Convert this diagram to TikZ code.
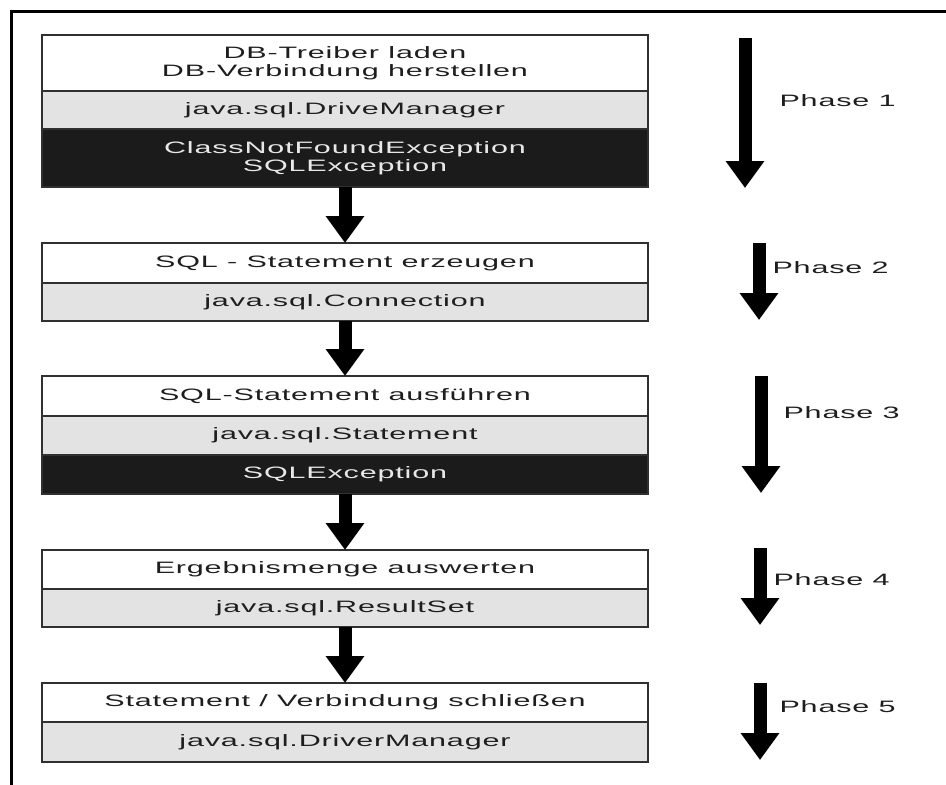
\documentclass[tikz,border=0pt]{standalone}
\usepackage{fontspec}
\setmainfont[FakeStretch=1.85,LetterSpace=5]{Liberation Sans}
\usetikzlibrary{arrows.meta}
\definecolor{rowgrey}{HTML}{E3E3E3}
\definecolor{rowdark}{HTML}{1B1B1B}
\definecolor{edge}{HTML}{303030}
\definecolor{ink}{HTML}{1E1E1E}
\definecolor{paleink}{HTML}{E8E8E8}

\begin{document}
\begin{tikzpicture}[x=1bp,y=-1bp,
  every node/.style={font=\fontsize{16.5bp}{17.5bp}\selectfont},
  row/.style={draw=edge, line width=1.2bp, minimum width=606bp, inner sep=0pt,
              outer sep=0pt, anchor=north, align=center, text=ink},
  titlerow/.style={row, fill=white},
  classrow/.style={row, fill=rowgrey},
  errrow/.style={row, fill=rowdark, text=paleink},
  flow/.style={line width=13bp, -{Triangle[width=37bp,length=27bp]}},
  phase/.style={anchor=west, text=ink}
]
\useasboundingbox (0,0) rectangle (946,785);
\fill[white] (0,0) rectangle (946,785);

% outer frame: top and left edges only
\draw[line width=3bp] (946,11.8) -- (11.8,11.8) -- (11.8,785);

% phase 1
\node[titlerow, minimum height=56bp] (b1a) at (345,35) {DB-Treiber laden\\DB-Verbindung herstellen};
\node[classrow, minimum height=38bp] (b1b) at (b1a.south) {java.sql.DriveManager};
\node[errrow, minimum height=58bp] (b1c) at (b1b.south) {ClassNotFoundException\\SQLException};

% phase 2
\node[titlerow, minimum height=40bp] (b2a) at (345,243) {SQL - Statement erzeugen};
\node[classrow, minimum height=38bp] (b2b) at (b2a.south) {java.sql.Connection};

% phase 3
\node[titlerow, minimum height=40bp] (b3a) at (345,376) {SQL-Statement ausführen};
\node[classrow, minimum height=39bp] (b3b) at (b3a.south) {java.sql.Statement};
\node[errrow, minimum height=39bp] (b3c) at (b3b.south) {SQLException};

% phase 4
\node[titlerow, minimum height=39bp] (b4a) at (345,550) {Ergebnismenge auswerten};
\node[classrow, minimum height=38bp] (b4b) at (b4a.south) {java.sql.ResultSet};

% phase 5
\node[titlerow, minimum height=39bp] (b5a) at (345,683) {Statement / Verbindung schließen};
\node[classrow, minimum height=40bp] (b5b) at (b5a.south) {java.sql.DriverManager};

% flow between the steps
\draw[flow] (b1c.south) -- (b2a.north);
\draw[flow] (b2b.south) -- (b3a.north);
\draw[flow] (b3c.south) -- (b4a.north);
\draw[flow] (b4b.south) -- (b5a.north);

% phase markers on the right
\coordinate (p1s) at (745,38);  \coordinate (p1e) at (745,188);
\coordinate (p2s) at (759,243); \coordinate (p2e) at (759,320);
\coordinate (p3s) at (761,376); \coordinate (p3e) at (761,493);
\coordinate (p4s) at (760,548); \coordinate (p4e) at (760,625);
\coordinate (p5s) at (760,683); \coordinate (p5e) at (760,760);
\draw[flow] (p1s) -- (p1e);
\draw[flow] (p2s) -- (p2e);
\draw[flow] (p3s) -- (p3e);
\draw[flow] (p4s) -- (p4e);
\draw[flow] (p5s) -- (p5e);

\node[phase] (ph1) at (776,101) {Phase 1};
\node[phase] (ph2) at (769,268) {Phase 2};
\node[phase] (ph3) at (780,413) {Phase 3};
\node[phase] (ph4) at (770,580) {Phase 4};
\node[phase] (ph5) at (776,707) {Phase 5};
\end{tikzpicture}
\end{document}
